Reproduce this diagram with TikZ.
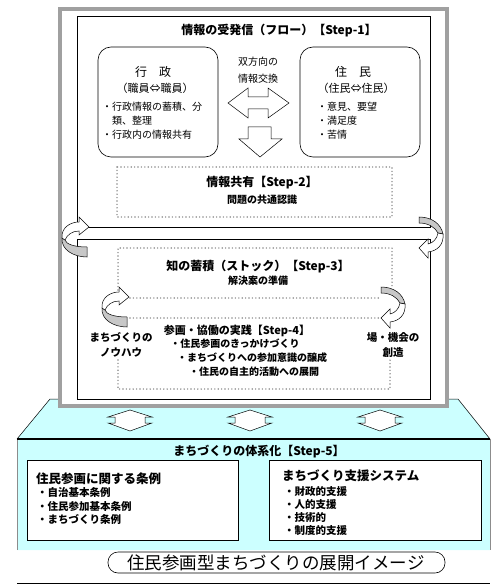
\documentclass[tikz,border=0pt]{standalone}
\usepackage{fontspec}
\setmainfont{Noto Sans CJK JP}
\usepackage{tikz}
\usetikzlibrary{positioning}
\definecolor{basecyan}{RGB}{204,255,255}
\definecolor{framegray}{RGB}{160,160,160}
\tikzset{
  dotbox/.style={draw=black!45, line width=1.6pt, line cap=round, dash pattern=on 0pt off 3.4pt},
  blockarrow/.style={draw=black, fill=white, line width=0.5pt},
  steptitle/.style={font=\fontsize{12}{14}\selectfont\bfseries, inner sep=0pt},
  stepsub/.style={font=\fontsize{10}{14}\selectfont\bfseries, inner sep=0pt},
  bodytxt/.style={font=\fontsize{10}{14}\selectfont, inner sep=0pt},
  curlleft/.pic={
    \path[blockarrow, fill=black!22] (12,10) .. controls (-1,10) and (-9,7) .. (-10,3) -- (-13,1) .. controls (-14,13) and (-1,20) .. (12,20) -- cycle;
    \path[blockarrow] (-13,1) .. controls (-14,-9) and (-5,-15) .. (4,-15) -- (4,-20) -- (14,-10) -- (4,-2) -- (4,-6) .. controls (-3,-6) and (-8,-2) .. (-10,3) -- cycle;
  },
  curlright/.pic={
    \path[blockarrow, fill=black!22] (-11,-23) .. controls (2,-23) and (11,-16) .. (13,-6) -- (8,-7) .. controls (5,-13) and (-2,-17) .. (-11,-17) -- cycle;
    \path[blockarrow] (13,-6) .. controls (14,5) and (7,11) .. (-2,12) -- (-2,18) -- (-11,8) -- (-2,-1) -- (-2,4) .. controls (3,3) and (7,-1) .. (8,-7) -- cycle;
  }
}
\begin{document}
\begin{tikzpicture}[x=1pt,y=-1pt]
\useasboundingbox (0,0) rectangle (500,585);
% base of the house
\fill[basecyan] (17,439) -- (50,399) -- (458,399) -- (490,439) -- (490,550) -- (17,550) -- cycle;
\draw[line width=0.5pt] (17,439) -- (50,399) -- (458,399) -- (490,439);
\draw[black!45, line width=0.6pt] (17,439) -- (17,550) (490,439) -- (490,550);
\draw[line width=1.2pt] (17,439) -- (490,439);
% frame
\draw[framegray, line width=4pt, fill=white] (60,9) rectangle (447,406);
\draw[line width=0.6pt] (77,16) rectangle (430,227);
\draw[line width=0.6pt] (77,239) rectangle (430,399);

% Step-1
\node[steptitle] (flow) at (279,31) {情報の受発信（フロー）【Step-1】};
\draw[line width=0.6pt, rounded corners=13pt] (98,47) rectangle (218,157);
\draw[line width=0.6pt, rounded corners=13pt] (300,47) rectangle (420,157);
\node[bodytxt, font=\fontsize{12}{14}\selectfont] (gyosei) at (153,72) {行　政};
\node[bodytxt, font=\fontsize{11}{14}\selectfont] (shokuin) at (155,88) {（職員⇔職員）};
\node[bodytxt, anchor=west, align=left] (gyoseilist) at (102,121) {・行政情報の蓄積、分\\\phantom{・}類、整理\\・行政内の情報共有};
\node[bodytxt, font=\fontsize{12}{14}\selectfont] (jumin) at (353,72) {住　民};
\node[bodytxt, font=\fontsize{11}{14}\selectfont] (juminjumin) at (356,88) {（住民⇔住民）};
\node[bodytxt, anchor=west, align=left] (juminlist) at (317,121) {・意見、要望\\・満足度\\・苦情};
\node[bodytxt, align=center, font=\fontsize{10}{16.5}\selectfont] (koukan) at (258,70) {双方向の\\情報交換};
\draw[blockarrow] (228,103) -- (248,88) -- (248,97) -- (268,97) -- (268,88) -- (289,103)
  -- (268,118) -- (268,109) -- (248,109) -- (248,118) -- cycle;
\draw[blockarrow] (248,127) -- (271,127) -- (271,139) -- (282,139) -- (260,157) -- (239,139) -- (248,139) -- cycle;

% Step-2
\draw[dotbox] (117,167) rectangle (392,217);
\node[steptitle] (kyoyu) at (262,183) {情報共有【Step-2】};
\node[stepsub] (ninshiki) at (262,200) {問題の共通認識};

% Step-3
\draw[dotbox] (118,290) -- (118,248) -- (392,248) -- (392,288);
\draw[dotbox] (130,298) -- (380,298);
\node[steptitle] (stock) at (258,267) {知の蓄積（ストック）【Step-3】};
\node[stepsub] (junbi) at (258,281) {解決案の準備};

% Step-4
\draw[dotbox] (130,318) -- (383,318);
\draw[dotbox] (118,360) -- (118,389) -- (390,389) -- (390,357);
\node[steptitle, font=\fontsize{11}{14}\selectfont\bfseries] (jissen) at (237,331) {参画・協働の実践【Step-4】};
\node[stepsub] (kikkake) at (235,344) {・住民参画のきっかけづくり};
\node[stepsub] (jousei) at (252,358) {・まちづくりへの参加意識の醸成};
\node[stepsub] (tenkai) at (254,372) {・住民の自主的活動への展開};
\node[stepsub, align=center, font=\fontsize{10.5}{15}\selectfont\bfseries] (knowhow) at (121,345) {まちづくりの\\ノウハウ};
\node[stepsub, align=center, font=\fontsize{10.5}{15}\selectfont\bfseries] (souzou) at (393,345) {場・機会の\\創造};

% curled arrows
\pic at (75,237) {curlleft};
\pic at (115,307) {curlleft};
\pic at (430,240) {curlright};
\pic at (392,310) {curlright};

% arrows to Step-5
\foreach \cx in {130,250,380} {
\draw[blockarrow] (\cx,410) -- ++(22,7) -- ++(-7,0) -- ++(0,6) -- ++(7,0) -- (\cx,431)
  -- ++(-22,-8) -- ++(7,0) -- ++(0,-6) -- ++(-7,0) -- cycle;
}

% Step-5
\node[steptitle] (taikei) at (259,452) {まちづくりの体系化【Step-5】};
\draw[line width=0.6pt, fill=white] (27,460) rectangle (238,540);
\draw[line width=0.6pt, fill=white] (269,460) rectangle (481,540);
\node[steptitle, anchor=west, font=\fontsize{12.5}{14}\selectfont\bfseries] (jorei) at (36,479) {住民参画に関する条例};
\node[stepsub, anchor=west, align=left, font=\fontsize{10.5}{13.7}\selectfont\bfseries] (joreilist) at (37,506) {・自治基本条例\\・住民参加基本条例\\・まちづくり条例};
\node[steptitle, anchor=west, font=\fontsize{12.5}{14}\selectfont\bfseries] (shien) at (282,476) {まちづくり支援システム};
\node[stepsub, anchor=west, align=left, font=\fontsize{10.5}{13.3}\selectfont\bfseries] (shienlist) at (284,511) {・財政的支援\\・人的支援\\・技術的\\・制度的支援};

% caption
\draw[line width=0.6pt, rounded corners=10pt] (108,552) rectangle (445,573);
\node[bodytxt, font=\fontsize{17.5}{20}\selectfont] (image) at (276,563) {住民参画型まちづくりの展開イメージ};
\draw[line width=0.8pt] (17,583) -- (490,583);
\end{tikzpicture}
\end{document}
